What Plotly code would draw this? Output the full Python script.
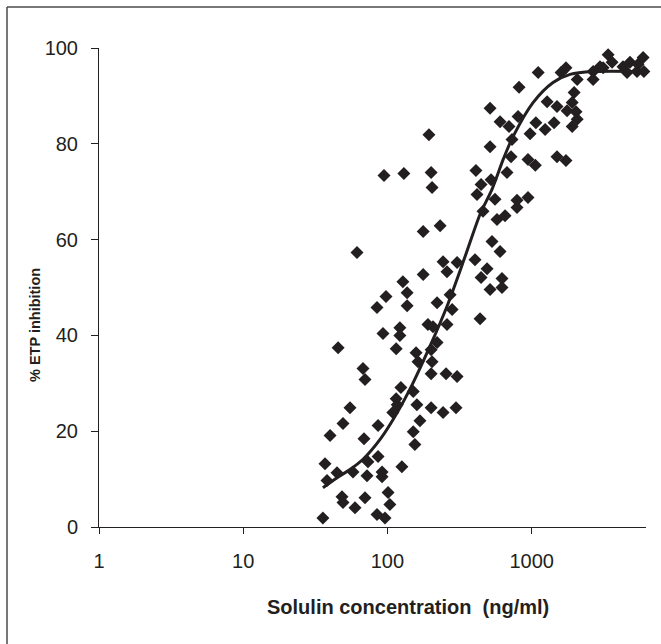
import plotly.graph_objects as go

# Scatter data: Solulin concentration (ng/ml) and % ETP inhibition
conc = [3390, 3610, 4300, 4810, 5470, 5930, 4590, 5380, 6000, 2980, 3130, 2670, 2670, 1730, 1600,
        2070, 1110, 818, 515, 604, 697, 805, 1070, 975, 1240, 1430, 1280, 1500, 1760, 1970, 1910,
        2030, 2070, 1910, 515, 731, 720, 944, 1060, 1500, 1730, 411, 446, 523, 675, 418, 557, 792,
        944, 792, 460, 575, 654, 531, 604, 405, 491, 446, 623, 623, 515, 232, 177, 243, 304, 259,
        272, 281, 439, 259, 221,
        94.7, 130, 201, 204, 194, 61.5, 177, 128, 137, 97.8, 84.7, 137, 221, 93.2, 122, 122, 191,
        207, 45.5, 115, 158, 201, 163, 204, 67.7, 69.9, 201, 255, 304, 124, 115, 151, 117, 160, 201,
        243, 299, 109, 55.0, 49.2, 86.1, 168, 151, 40.0, 68.8, 155, 86.1, 73.3, 126, 36.9, 44.7,
        57.7, 72.2, 91.8, 91.8, 38.1, 48.4, 49.2, 59.6, 69.9, 101, 104, 84.7, 96.2, 35.7]
inhib = [98.6, 97.0, 96.1, 97.0, 96.6, 98.0, 94.9, 95.1, 95.1, 96.1, 95.9, 95.1, 93.4, 95.9, 94.9,
         93.4, 94.9, 91.8, 87.4, 84.6, 83.6, 85.7, 84.4, 82.1, 83.0, 84.4, 88.8, 87.8, 86.9, 90.7,
         88.6, 86.7, 85.1, 83.6, 79.4, 80.9, 77.3, 76.7, 75.5, 77.3, 76.5, 74.4, 71.5, 72.5, 74.0,
         69.4, 68.4, 68.2, 68.8, 66.7, 65.9, 64.2, 65.0, 59.6, 57.5, 55.8, 53.9, 52.1, 51.9, 50.0,
         49.6, 62.9, 61.7, 55.4, 55.2, 53.3, 48.5, 45.4, 43.5, 42.3, 38.5,
         73.4, 73.8, 74.0, 70.9, 81.9, 57.3, 52.7, 51.2, 48.9, 48.1, 45.8, 46.2, 46.8, 40.4, 41.6,
         40.0, 42.3, 41.8, 37.4, 37.2, 36.4, 37.0, 34.5, 34.5, 33.1, 30.8, 32.0, 32.0, 31.4, 29.1,
         26.8, 28.3, 25.5, 25.5, 24.9, 23.9, 24.9, 23.9, 24.9, 21.6, 21.2, 22.2, 19.9, 19.1, 18.4,
         17.2, 14.7, 13.6, 12.6, 13.2, 11.3, 11.5, 10.7, 11.5, 10.5, 9.7, 6.3, 5.1, 4.0, 6.1, 7.2,
         4.7, 2.6, 1.9, 1.9]

# Fitted curve
curve_conc = [35.7, 44.8, 55, 68, 90, 117, 150, 197, 259, 345, 439, 531, 640, 743, 1023, 1407,
              1847, 2670, 6100]
curve_inhib = [8.2, 10.3, 12.0, 14.2, 18.5, 23.9, 30.0, 37.7, 46.1, 56.4, 65.3, 70.5, 77.0, 81.5,
               88.6, 92.8, 94.5, 95.1, 95.1]

x_ticks = [1, 10, 100, 1000]
x_tick_text = ["1", "10", "100", "1000"]
y_ticks = [0, 20, 40, 60, 80, 100]

INK = "#231f20"

fig = go.Figure()
fig.add_trace(go.Scatter(
    x=conc, y=inhib, mode="markers",
    marker=dict(symbol="diamond", size=10, color=INK, line=dict(width=0)),
    showlegend=False, cliponaxis=False))
fig.add_trace(go.Scatter(
    x=curve_conc, y=curve_inhib, mode="lines",
    line=dict(color=INK, width=3, shape="spline", smoothing=0.8),
    showlegend=False))

W, H = 661, 644
ml, mr, mt, mb = 99, 15, 48, 117
pw, ph = W - ml - mr, H - mt - mb


def px(x):
    return (x - ml) / pw


def py(y):
    return (H - mb - y) / ph


fig.update_layout(
    width=W, height=H,
    margin=dict(l=ml, r=mr, t=mt, b=mb, autoexpand=False),
    paper_bgcolor="white", plot_bgcolor="white",
    font=dict(family="Liberation Sans, Arial, sans-serif", color=INK, size=20),
    xaxis=dict(type="log", range=[0, 3.793], tickvals=x_ticks, ticktext=x_tick_text,
               showgrid=False, zeroline=False, showline=True, linecolor=INK, linewidth=1,
               ticks="outside", ticklen=6, tickcolor=INK, tickwidth=1,
               ticklabelstandoff=10, tickfont=dict(size=20)),
    yaxis=dict(range=[0, 100], tickvals=y_ticks, showgrid=False, zeroline=False,
               showline=True, linecolor=INK, linewidth=1,
               ticks="outside", ticklen=7, tickcolor=INK, tickwidth=1,
               ticklabelstandoff=9, tickfont=dict(size=20)),
    annotations=[
        dict(text="<b>Solulin concentration  (ng/ml)</b>", xref="paper", yref="paper",
             x=px(408), y=py(607), xanchor="center", yanchor="middle", showarrow=False,
             font=dict(family="Liberation Sans, Arial, sans-serif", size=20, color=INK)),
        dict(text="<b>% ETP inhibition</b>", xref="paper", yref="paper",
             x=px(35), y=py(325), xanchor="center", yanchor="middle", showarrow=False,
             textangle=-90,
             font=dict(family="Liberation Sans, Arial, sans-serif", size=14.5, color=INK)),
    ],
    shapes=[
        dict(type="line", xref="paper", yref="paper", x0=px(7), x1=px(7), y0=py(7), y1=py(H + 5),
             line=dict(color="#4a4a4a", width=1.5)),
        dict(type="line", xref="paper", yref="paper", x0=px(7), x1=px(W + 5), y0=py(7), y1=py(7),
             line=dict(color="#4a4a4a", width=1.5)),
    ],
)

fig.write_html("out.html")
